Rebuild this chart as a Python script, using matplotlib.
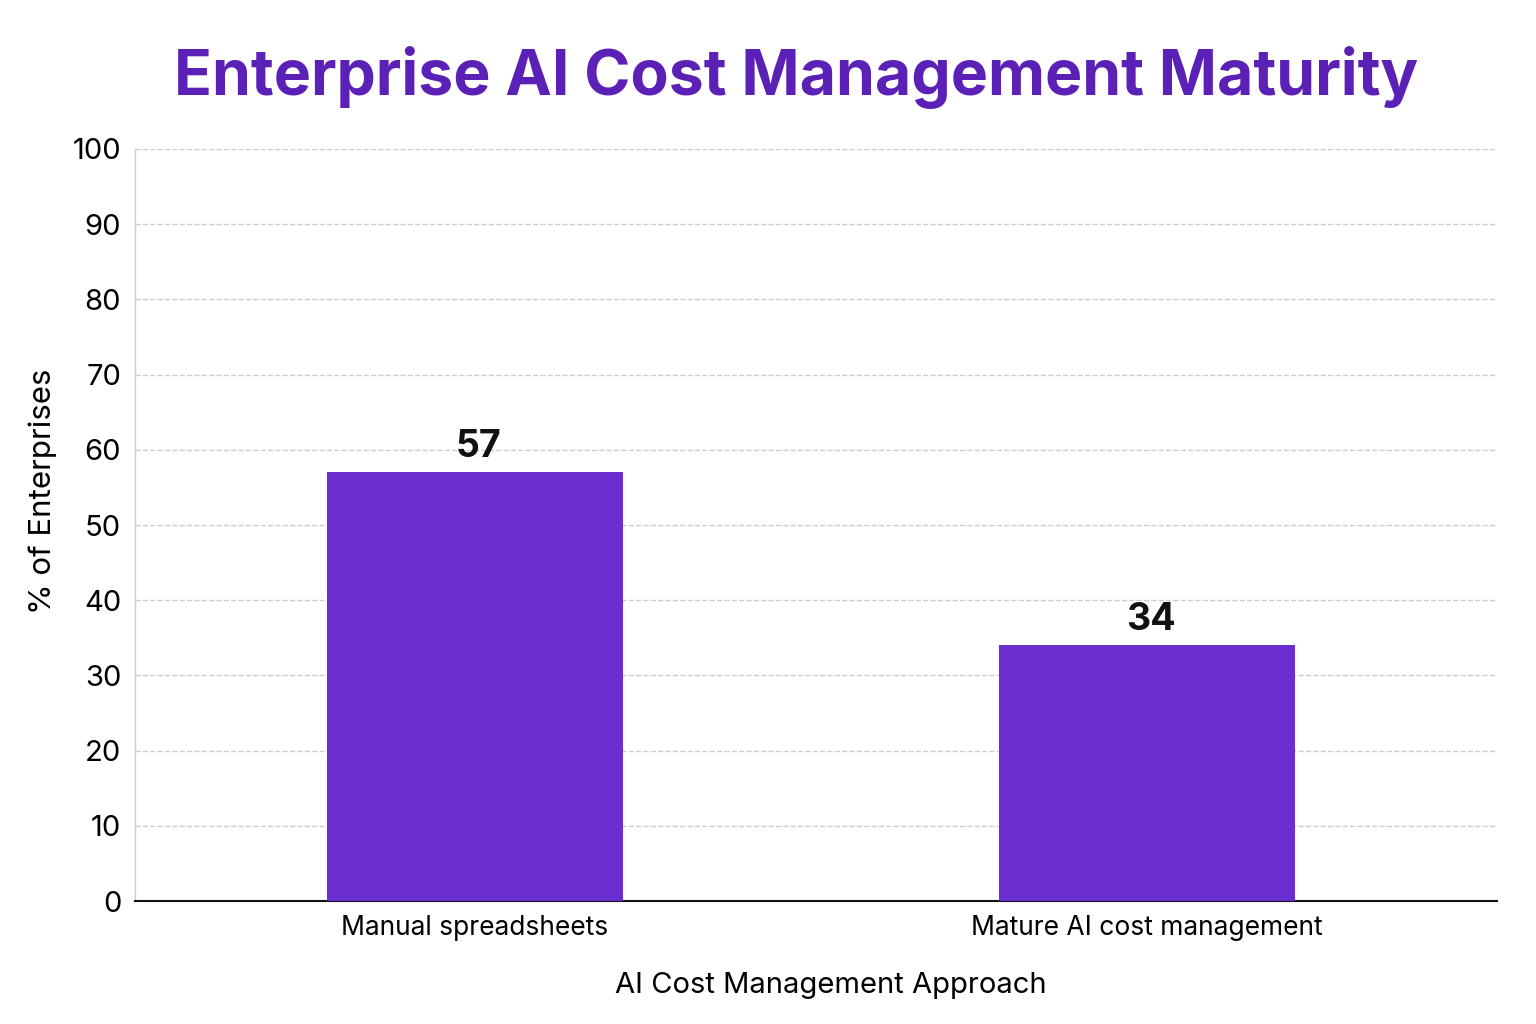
import matplotlib
matplotlib.use("Agg")
import matplotlib.pyplot as plt
import numpy as np

plt.rcParams['font.family'] = ['Inter', 'DejaVu Sans']

categories = ['Manual spreadsheets', 'Mature AI cost management']
values = [57, 34]
yticks = list(range(0, 101, 10))

bar_color = '#6a2ecf'
title_color = '#5b21b6'

fig = plt.figure(figsize=(15.36, 10.24), dpi=100)
ax = fig.add_axes([0.0879, 0.1201, 0.8867, 0.7344])

x = np.arange(len(categories))
bars = ax.bar(x, values, width=0.44, color=bar_color, zorder=3)

for b, v in zip(bars, values):
    ax.text(b.get_x() + b.get_width() / 2 + 0.006, v + 1.0, str(v),
            ha='center', va='bottom', fontsize=27, fontweight='bold',
            color='#111111')

ax.set_xlim(-0.505, 1.52)
ax.set_ylim(0, 100)
ax.set_yticks(yticks)
ax.set_xticks(x)
ax.set_xticklabels(categories, fontsize=19)
ax.tick_params(axis='y', labelsize=21, length=0, pad=10)
ax.tick_params(axis='x', length=0, pad=10)

ax.grid(axis='y', linestyle='--', color='#cccccc', linewidth=1, zorder=0)
ax.set_axisbelow(True)

for s in ['top', 'right']:
    ax.spines[s].set_visible(False)
ax.spines['left'].set_color('#cccccc')
ax.spines['left'].set_linewidth(1)
ax.spines['bottom'].set_color('#111111')
ax.spines['bottom'].set_linewidth(1.5)

ax.set_xlabel('AI Cost Management Approach', fontsize=21)
ax.set_ylabel('% of Enterprises', fontsize=22.5)
ax.xaxis.set_label_coords(0.511, -0.095)
ax.yaxis.set_label_coords(-0.057, 0.545)

fig.suptitle('Enterprise AI Cost Management Maturity', fontsize=45,
             fontweight='bold', color=title_color, x=0.518, y=0.955)

fig.savefig('out.png', dpi=100, facecolor='white')
